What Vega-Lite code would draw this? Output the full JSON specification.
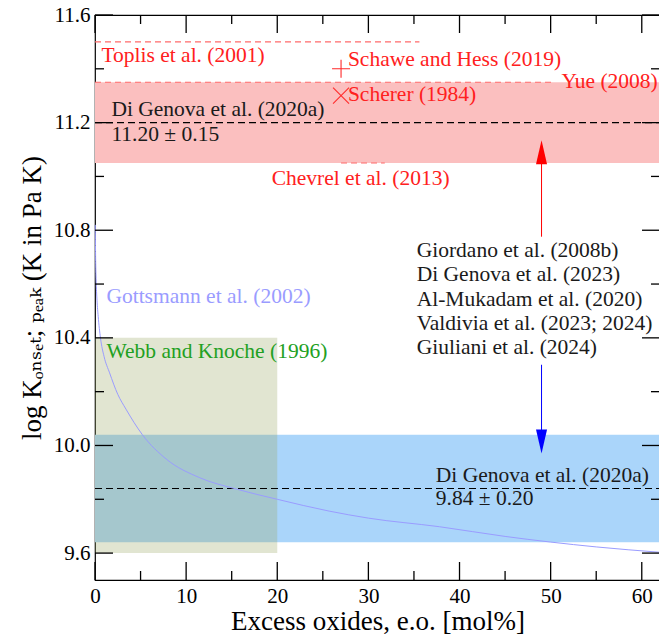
{
  "$schema": "https://vega.github.io/schema/vega-lite/v6.json",
  "width": 565,
  "height": 565,
  "autosize": "none",
  "padding": {"left": 95, "top": 15, "right": 0, "bottom": 57},
  "background": "white",
  "config": {
    "view": {"stroke": "black", "strokeWidth": 1.2},
    "font": "Liberation Serif, DejaVu Serif, serif",
    "text": {"font": "Liberation Serif, DejaVu Serif, serif", "fontSize": 21.5},
    "axis": {"labelFont": "Liberation Serif, DejaVu Serif, serif", "titleFont": "Liberation Serif, DejaVu Serif, serif", "grid": false, "domain": false, "ticks": false, "labelColor": "black", "titleColor": "black", "zindex": 1}
  },
  "datasets": {
    "xmaj": [{"v": 0}, {"v": 10}, {"v": 20}, {"v": 30}, {"v": 40}, {"v": 50}, {"v": 60}],
    "xmin": [{"v": 5}, {"v": 15}, {"v": 25}, {"v": 35}, {"v": 45}, {"v": 55}],
    "ymaj": [{"v": 9.6}, {"v": 10.0}, {"v": 10.4}, {"v": 10.8}, {"v": 11.2}, {"v": 11.6}],
    "ymin": [{"v": 9.8}, {"v": 10.2}, {"v": 10.6}, {"v": 11.0}, {"v": 11.4}]
  },
  "resolve": {"axis": {"x": "independent", "y": "independent"}},
  "layer": [
    {
      "data": {"values": [
        {"x0": 0, "x1": 62, "y0": 11.05, "y1": 11.35, "band": "onset"},
        {"x0": 0, "x1": 62, "y0": 9.64, "y1": 10.04, "band": "peak"}
      ]},
      "mark": {"type": "rect", "strokeWidth": 0},
      "encoding": {
        "x": {"field": "x0", "type": "quantitative", "scale": {"domain": [0, 62], "nice": false, "zero": false},
          "axis": {"orient": "bottom", "values": [0,10,20,30,40,50,60],
            "labelFontSize": 21, "labelPadding": 5, "labelFlush": false,
            "title": "Excess oxides, e.o. [mol%]", "titleFontSize": 27, "titleFontWeight": "normal", "titlePadding": 2}},
        "x2": {"field": "x1"},
        "y": {"field": "y0", "type": "quantitative", "scale": {"domain": [9.5, 11.6], "nice": false, "zero": false},
          "axis": {"orient": "left", "values": [9.6,10.0,10.4,10.8,11.2,11.6], "format": ".1f",
            "labelFontSize": 21, "labelPadding": 5, "labelFlush": false,
            "title": "log Kₒₙₛₑₜ; ₚₑₐₖ (K in Pa K)", "titleFontSize": 27, "titleFontWeight": "normal", "titlePadding": 7}},
        "y2": {"field": "y1"},
        "color": {"field": "band", "type": "nominal", "scale": {"domain": ["onset", "peak"], "range": ["#fbbfbf", "#aad5fa"]}, "legend": null}
      }
    },
    {
      "data": {"values": [{"x0": 0, "x1": 20, "y0": 9.6, "y1": 10.4}]},
      "mark": {"type": "rect", "color": "#9ba866", "opacity": 0.3, "strokeWidth": 0},
      "encoding": {
        "x": {"field": "x0", "type": "quantitative", "scale": {"domain": [0, 62], "nice": false, "zero": false}, "axis": null},
        "x2": {"field": "x1"},
        "y": {"field": "y0", "type": "quantitative", "scale": {"domain": [9.5, 11.6], "nice": false, "zero": false}, "axis": null},
        "y2": {"field": "y1"}
      }
    },
    {
      "data": {"values": [
        {"x0": 0, "x1": 62, "y": 11.2},
        {"x0": 0, "x1": 62, "y": 9.84}
      ]},
      "mark": {"type": "rule", "color": "black", "strokeWidth": 1.1, "strokeDash": [7, 4]},
      "encoding": {
        "x": {"field": "x0", "type": "quantitative", "scale": {"domain": [0, 62], "nice": false, "zero": false}, "axis": null},
        "x2": {"field": "x1"},
        "y": {"field": "y", "type": "quantitative", "scale": {"domain": [9.5, 11.6], "nice": false, "zero": false}, "axis": null}
      }
    },
    {
      "data": {"values": [
        {"x0": 0, "x1": 35.6, "y": 11.5},
        {"x0": 0, "x1": 50.2, "y": 11.35},
        {"x0": 27, "x1": 31.8, "y": 11.05}
      ]},
      "mark": {"type": "rule", "color": "#ff6b6b", "strokeWidth": 1.2, "strokeDash": [6, 4]},
      "encoding": {
        "x": {"field": "x0", "type": "quantitative", "scale": {"domain": [0, 62], "nice": false, "zero": false}, "axis": null},
        "x2": {"field": "x1"},
        "y": {"field": "y", "type": "quantitative", "scale": {"domain": [9.5, 11.6], "nice": false, "zero": false}, "axis": null}
      }
    },
    {
      "data": {"values": [
        {"x": 0.03, "y": 10.82}, {"x": 0.06, "y": 10.72}, {"x": 0.12, "y": 10.62}, {"x": 0.22, "y": 10.54},
        {"x": 0.35, "y": 10.48}, {"x": 0.6, "y": 10.40}, {"x": 1.0, "y": 10.33}, {"x": 1.6, "y": 10.27},
        {"x": 2.5, "y": 10.19}, {"x": 3.4, "y": 10.135}, {"x": 5.2, "y": 10.04}, {"x": 7.8, "y": 9.95},
        {"x": 11.5, "y": 9.88}, {"x": 15.5, "y": 9.838}, {"x": 20, "y": 9.80}, {"x": 25.7, "y": 9.756},
        {"x": 30, "y": 9.73}, {"x": 37.8, "y": 9.698}, {"x": 45, "y": 9.662}, {"x": 50, "y": 9.641},
        {"x": 55, "y": 9.623}, {"x": 62, "y": 9.603}
      ]},
      "mark": {"type": "line", "color": "#9a9cff", "strokeWidth": 1, "interpolate": "monotone"},
      "encoding": {
        "x": {"field": "x", "type": "quantitative", "scale": {"domain": [0, 62], "nice": false, "zero": false}, "axis": null},
        "y": {"field": "y", "type": "quantitative", "scale": {"domain": [9.5, 11.6], "nice": false, "zero": false}, "axis": null}
      }
    },
    {
      "data": {"name": "xmaj"},
      "mark": {"type": "rule", "color": "black", "strokeWidth": 1.3},
      "encoding": {
        "x": {"field": "v", "type": "quantitative", "scale": {"domain": [0, 62], "nice": false, "zero": false}, "axis": null},
        "y": {"datum": 9.5, "type": "quantitative", "scale": {"domain": [9.5, 11.6], "nice": false, "zero": false}, "axis": null},
        "y2": {"datum": 9.5669}
      }
    },
    {
      "data": {"name": "xmaj"},
      "mark": {"type": "rule", "color": "black", "strokeWidth": 1.3},
      "encoding": {
        "x": {"field": "v", "type": "quantitative", "scale": {"domain": [0, 62], "nice": false, "zero": false}, "axis": null},
        "y": {"datum": 11.6, "type": "quantitative", "scale": {"domain": [9.5, 11.6], "nice": false, "zero": false}, "axis": null},
        "y2": {"datum": 11.5331}
      }
    },
    {
      "data": {"name": "xmin"},
      "mark": {"type": "rule", "color": "black", "strokeWidth": 1.3},
      "encoding": {
        "x": {"field": "v", "type": "quantitative", "scale": {"domain": [0, 62], "nice": false, "zero": false}, "axis": null},
        "y": {"datum": 9.5, "type": "quantitative", "scale": {"domain": [9.5, 11.6], "nice": false, "zero": false}, "axis": null},
        "y2": {"datum": 9.5334}
      }
    },
    {
      "data": {"name": "xmin"},
      "mark": {"type": "rule", "color": "black", "strokeWidth": 1.3},
      "encoding": {
        "x": {"field": "v", "type": "quantitative", "scale": {"domain": [0, 62], "nice": false, "zero": false}, "axis": null},
        "y": {"datum": 11.6, "type": "quantitative", "scale": {"domain": [9.5, 11.6], "nice": false, "zero": false}, "axis": null},
        "y2": {"datum": 11.5666}
      }
    },
    {
      "data": {"name": "ymaj"},
      "mark": {"type": "rule", "color": "black", "strokeWidth": 1.3},
      "encoding": {
        "y": {"field": "v", "type": "quantitative", "scale": {"domain": [9.5, 11.6], "nice": false, "zero": false}, "axis": null},
        "x": {"datum": 0, "type": "quantitative", "scale": {"domain": [0, 62], "nice": false, "zero": false}, "axis": null},
        "x2": {"datum": 1.974}
      }
    },
    {
      "data": {"name": "ymaj"},
      "mark": {"type": "rule", "color": "black", "strokeWidth": 1.3},
      "encoding": {
        "y": {"field": "v", "type": "quantitative", "scale": {"domain": [9.5, 11.6], "nice": false, "zero": false}, "axis": null},
        "x": {"datum": 62, "type": "quantitative", "scale": {"domain": [0, 62], "nice": false, "zero": false}, "axis": null},
        "x2": {"datum": 60.026}
      }
    },
    {
      "data": {"name": "ymin"},
      "mark": {"type": "rule", "color": "black", "strokeWidth": 1.3},
      "encoding": {
        "y": {"field": "v", "type": "quantitative", "scale": {"domain": [9.5, 11.6], "nice": false, "zero": false}, "axis": null},
        "x": {"datum": 0, "type": "quantitative", "scale": {"domain": [0, 62], "nice": false, "zero": false}, "axis": null},
        "x2": {"datum": 0.987}
      }
    },
    {
      "data": {"name": "ymin"},
      "mark": {"type": "rule", "color": "black", "strokeWidth": 1.3},
      "encoding": {
        "y": {"field": "v", "type": "quantitative", "scale": {"domain": [9.5, 11.6], "nice": false, "zero": false}, "axis": null},
        "x": {"datum": 62, "type": "quantitative", "scale": {"domain": [0, 62], "nice": false, "zero": false}, "axis": null},
        "x2": {"datum": 61.013}
      }
    },
    {
      "data": {"values": [{"x": 49, "y0": 10.776, "y1": 11.06}]},
      "mark": {"type": "rule", "color": "#ff0000", "strokeWidth": 1},
      "encoding": {
        "x": {"field": "x", "type": "quantitative", "scale": {"domain": [0, 62], "nice": false, "zero": false}, "axis": null},
        "y": {"field": "y0", "type": "quantitative", "scale": {"domain": [9.5, 11.6], "nice": false, "zero": false}, "axis": null},
        "y2": {"field": "y1"}
      }
    },
    {
      "data": {"values": [{"x": 49, "y0": 10.30, "y1": 10.05}]},
      "mark": {"type": "rule", "color": "#0000ff", "strokeWidth": 1},
      "encoding": {
        "x": {"field": "x", "type": "quantitative", "scale": {"domain": [0, 62], "nice": false, "zero": false}, "axis": null},
        "y": {"field": "y0", "type": "quantitative", "scale": {"domain": [9.5, 11.6], "nice": false, "zero": false}, "axis": null},
        "y2": {"field": "y1"}
      }
    },
    {
      "data": {"values": [{"x": 49, "y": 11.09}]},
      "mark": {"type": "point", "shape": "M0,-1L0.46,1L-0.46,1Z", "filled": true, "color": "#ff0000", "size": 576, "opacity": 1, "strokeWidth": 0},
      "encoding": {
        "x": {"field": "x", "type": "quantitative", "scale": {"domain": [0, 62], "nice": false, "zero": false}, "axis": null},
        "y": {"field": "y", "type": "quantitative", "scale": {"domain": [9.5, 11.6], "nice": false, "zero": false}, "axis": null}
      }
    },
    {
      "data": {"values": [{"x": 49, "y": 10.015}]},
      "mark": {"type": "point", "shape": "M0,1L0.46,-1L-0.46,-1Z", "filled": true, "color": "#0000ff", "size": 576, "opacity": 1, "strokeWidth": 0},
      "encoding": {
        "x": {"field": "x", "type": "quantitative", "scale": {"domain": [0, 62], "nice": false, "zero": false}, "axis": null},
        "y": {"field": "y", "type": "quantitative", "scale": {"domain": [9.5, 11.6], "nice": false, "zero": false}, "axis": null}
      }
    },
    {
      "data": {"values": [{"x": 27, "y": 11.40}]},
      "mark": {"type": "point", "shape": "M-1,0L1,0M0,-1L0,1", "filled": false, "color": "#ff2a2a", "size": 324, "opacity": 1, "strokeWidth": 1.1},
      "encoding": {
        "x": {"field": "x", "type": "quantitative", "scale": {"domain": [0, 62], "nice": false, "zero": false}, "axis": null},
        "y": {"field": "y", "type": "quantitative", "scale": {"domain": [9.5, 11.6], "nice": false, "zero": false}, "axis": null}
      }
    },
    {
      "data": {"values": [{"x": 27, "y": 11.30}]},
      "mark": {"type": "point", "shape": "M-1,-1L1,1M-1,1L1,-1", "filled": false, "color": "#ff2a2a", "size": 256, "opacity": 1, "strokeWidth": 1.1},
      "encoding": {
        "x": {"field": "x", "type": "quantitative", "scale": {"domain": [0, 62], "nice": false, "zero": false}, "axis": null},
        "y": {"field": "y", "type": "quantitative", "scale": {"domain": [9.5, 11.6], "nice": false, "zero": false}, "axis": null}
      }
    },
    {
      "data": {"values": [
        {"x": 1.8, "y": 11.247, "label": "Di Genova et al. (2020a)"},
        {"x": 1.8, "y": 11.154, "label": "11.20 ± 0.15"},
        {"x": 37.4, "y": 9.885, "label": "Di Genova et al. (2020a)"},
        {"x": 37.4, "y": 9.80, "label": "9.84 ± 0.20"},
        {"x": 35.3, "y": 10.721, "label": "Giordano et al. (2008b)"},
        {"x": 35.3, "y": 10.632, "label": "Di Genova et al. (2023)"},
        {"x": 35.3, "y": 10.541, "label": "Al-Mukadam et al. (2020)"},
        {"x": 35.3, "y": 10.452, "label": "Valdivia et al. (2023; 2024)"},
        {"x": 35.3, "y": 10.362, "label": "Giuliani et al. (2024)"}
      ]},
      "mark": {"type": "text", "align": "left", "baseline": "middle", "color": "#1a1a1a"},
      "encoding": {
        "x": {"field": "x", "type": "quantitative", "scale": {"domain": [0, 62], "nice": false, "zero": false}, "axis": null},
        "y": {"field": "y", "type": "quantitative", "scale": {"domain": [9.5, 11.6], "nice": false, "zero": false}, "axis": null},
        "text": {"field": "label"}
      }
    },
    {
      "data": {"values": [
        {"x": 0.7, "y": 11.448, "label": "Toplis et al. (2001)"},
        {"x": 27.75, "y": 11.433, "label": "Schawe and Hess (2019)"},
        {"x": 27.75, "y": 11.303, "label": "Scherer (1984)"}
      ]},
      "mark": {"type": "text", "align": "left", "baseline": "middle", "color": "#ff2020"},
      "encoding": {
        "x": {"field": "x", "type": "quantitative", "scale": {"domain": [0, 62], "nice": false, "zero": false}, "axis": null},
        "y": {"field": "y", "type": "quantitative", "scale": {"domain": [9.5, 11.6], "nice": false, "zero": false}, "axis": null},
        "text": {"field": "label"}
      }
    },
    {
      "data": {"values": [{"x": 61.75, "y": 11.352, "label": "Yue (2008)"}]},
      "mark": {"type": "text", "align": "right", "baseline": "middle", "color": "#ff2020"},
      "encoding": {
        "x": {"field": "x", "type": "quantitative", "scale": {"domain": [0, 62], "nice": false, "zero": false}, "axis": null},
        "y": {"field": "y", "type": "quantitative", "scale": {"domain": [9.5, 11.6], "nice": false, "zero": false}, "axis": null},
        "text": {"field": "label"}
      }
    },
    {
      "data": {"values": [{"x": 29.15, "y": 10.99, "label": "Chevrel et al. (2013)"}]},
      "mark": {"type": "text", "align": "center", "baseline": "middle", "color": "#ff2020"},
      "encoding": {
        "x": {"field": "x", "type": "quantitative", "scale": {"domain": [0, 62], "nice": false, "zero": false}, "axis": null},
        "y": {"field": "y", "type": "quantitative", "scale": {"domain": [9.5, 11.6], "nice": false, "zero": false}, "axis": null},
        "text": {"field": "label"}
      }
    },
    {
      "data": {"values": [{"x": 1.25, "y": 10.553, "label": "Gottsmann et al. (2002)"}]},
      "mark": {"type": "text", "align": "left", "baseline": "middle", "color": "#9a9cff"},
      "encoding": {
        "x": {"field": "x", "type": "quantitative", "scale": {"domain": [0, 62], "nice": false, "zero": false}, "axis": null},
        "y": {"field": "y", "type": "quantitative", "scale": {"domain": [9.5, 11.6], "nice": false, "zero": false}, "axis": null},
        "text": {"field": "label"}
      }
    },
    {
      "data": {"values": [{"x": 1.25, "y": 10.349, "label": "Webb and Knoche (1996)"}]},
      "mark": {"type": "text", "align": "left", "baseline": "middle", "color": "#22a022"},
      "encoding": {
        "x": {"field": "x", "type": "quantitative", "scale": {"domain": [0, 62], "nice": false, "zero": false}, "axis": null},
        "y": {"field": "y", "type": "quantitative", "scale": {"domain": [9.5, 11.6], "nice": false, "zero": false}, "axis": null},
        "text": {"field": "label"}
      }
    }
  ]
}
